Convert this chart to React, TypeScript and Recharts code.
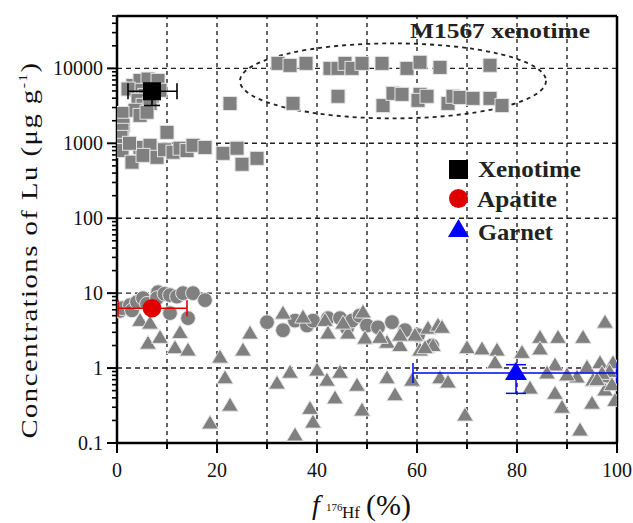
import React from 'react';
import { ScatterChart, Scatter, XAxis, YAxis, ErrorBar, ReferenceLine, ReferenceDot } from 'recharts';

// f176Hf (%) vs Lu concentration (ug/g), grey = single spots
const xenotimeSpots: [number, number][] = [
  [3.2, 5900], [4.6, 6900], [6.2, 7200], [8.2, 6900], [8.6, 5100], [4, 5100], [2.2, 5300],
  [5.6, 4360], [7, 4200], [4.2, 3740], [5.2, 3210], [6.6, 3400], [3.6, 2760], [4.6, 2360],
  [6, 2600], [1, 2500], [1.2, 1740], [1, 1490], [0.8, 1200], [1, 940], [1, 800], [3, 560],
  [4.6, 880], [6.6, 940], [5.2, 690], [8, 650], [2.5, 1000], [9.5, 820], [10, 1400],
  [11.2, 760], [12.6, 860], [14, 800], [15.2, 940], [17.6, 880], [22.6, 3400], [21.2, 735],
  [24, 860], [25, 525], [28, 630],
  [32.2, 11660], [34.6, 10960], [37.8, 11660], [42.6, 10000], [44.2, 10000], [45.6, 11660],
  [47, 10000], [49, 11660], [53, 11660], [58, 10000], [60.6, 12050], [64.6, 10300], [74.6, 11000],
  [35.2, 3410], [44.2, 4240], [53.2, 3190], [55.2, 4640], [57, 4500], [60.6, 4500], [60.2, 3740],
  [62, 4240], [66.2, 3410], [67.2, 4240], [68.6, 4090], [71.2, 3980], [74.6, 3980], [77, 3190],
];

const apatiteSpots: [number, number][] = [
  [0.6, 5.8], [1, 6.31], [2.6, 6.92], [3, 5.9], [4, 7.6], [5.2, 8.57], [6, 7.2], [8.2, 10.3],
  [8, 8.57], [9.5, 9.8], [10.6, 9.4], [12, 9], [13.2, 10], [15.2, 10], [17.6, 8.07], [10.6, 5.41],
  [14.2, 4.64],
  [30, 4.1], [33.2, 3.2], [35.6, 4.3], [38, 3.7], [39.2, 4.3], [42.2, 4.64], [44.6, 4.64],
  [46, 3.4], [47, 4.3], [48.5, 5.0], [50, 3.7], [52.2, 3.5], [55, 4.1], [57.6, 3.2], [60.2, 2.75],
  [63, 2.0],
];

const garnetSpots: [number, number][] = [
  [4.6, 4.33], [6.6, 3.98], [6.2, 2.15], [8.6, 2.57], [12.6, 2.98], [11.6, 1.87], [14.2, 1.74],
  [20.6, 1.4], [21.6, 0.74], [22.6, 0.32], [18.6, 0.185], [25.2, 1.74], [26.6, 2.93],
  [33.2, 5.41], [32, 0.63], [34.6, 0.88], [35.6, 0.128], [38.6, 0.29], [39.2, 0.19], [40, 0.94],
  [37.2, 4.79], [42, 0.69], [44.6, 0.88], [43.6, 0.4], [48, 0.59], [49, 0.275], [54, 0.74],
  [55.6, 0.44], [59, 0.69], [64.6, 0.74], [66.2, 0.65], [49.2, 5.6], [41.6, 4.33], [46.2, 2.93],
  [49.6, 2.51], [54, 2.21], [56.6, 2.0], [59.6, 2.75], [62.2, 3.41], [64.2, 3.73], [63.2, 2.0],
  [60.6, 1.74], [45.2, 3.98], [42.2, 2.93], [52.6, 2.57], [65, 3.5], [56.6, 2.75], [61.6, 1.87],
  [70, 1.87], [73, 1.8], [76, 1.74], [75.6, 1.18], [81, 1.62], [79.6, 0.94], [69.6, 0.236],
  [82.6, 0.54], [84.6, 2.57], [84.6, 1.8], [88.2, 2.57], [93.2, 2.57], [97.6, 4.1], [87.6, 1.1],
  [86, 0.86], [87.6, 0.46], [89, 0.3], [92.6, 0.149], [95, 0.34], [92, 0.76], [94, 1.03],
  [96.6, 1.18], [99.2, 1.18], [98, 0.76], [97.6, 0.51], [99.6, 0.37], [90, 0.81], [95.2, 0.69],
  [98.5, 0.9], [97, 0.85], [99, 0.6], [96, 0.7],
];

// weighted means: x, y, x-error [-,+], y-error [-,+]
const xenotimeMean = [{ x: 7, y: 4950, ex: [4.8, 5], ey: [1750, 1000] }];
const apatiteMean = [{ x: 7, y: 6.3, ex: [6.8, 7], ey: [0, 0] }];
const garnetMean = [{ x: 79.8, y: 0.86, ex: [20.6, 20.2], ey: [0.4, 0.25] }];

const decades = [0.1, 1, 10, 100, 1000, 10000];
const yTicks = decades.flatMap((d) => [1, 2, 3, 4, 5, 6, 7, 8, 9].map((k) => d * k)).filter((v) => v <= 50000);
const xTicks = [0, 10, 20, 30, 40, 50, 60, 70, 80, 90, 100];
const xLabels = [0, 20, 40, 60, 80, 100];
const gridX = [10, 20, 30, 40, 50, 60, 70, 80, 90];
const gridY = [1, 10, 100, 1000, 10000];

const toPts = (arr: [number, number][]) => arr.map(([x, y]) => ({ x, y }));

const FONT = '"Liberation Serif", "Times New Roman", serif';
const GREY = '#808080';
const W = 633;
const H = 523;

const Square = (p: any) => (
  <rect x={p.cx - 7} y={p.cy - 7} width={14} height={14} fill={GREY} stroke="#e4e4e4" strokeWidth={1} />
);
const Circle = (p: any) => <circle cx={p.cx} cy={p.cy} r={7.4} fill={GREY} stroke="#e4e4e4" strokeWidth={1} />;
const Tri = (p: any) => (
  <polygon
    points={`${p.cx},${p.cy - 8} ${p.cx - 8.3},${p.cy + 6} ${p.cx + 8.3},${p.cy + 6}`}
    fill={GREY}
    stroke="#e4e4e4"
    strokeWidth={1}
  />
);

const YTick = (props: any) => {
  const { x, y, payload } = props;
  const v = payload.value;
  const major = decades.some((d) => Math.abs(d - v) < d * 1e-6);
  return (
    <g>
      <line x1={x - (major ? 10 : 5)} x2={x} y1={y} y2={y} stroke="#000" strokeWidth={major ? 2 : 1.6} />
      {major && (
        <text x={x - 14} y={y + 7} textAnchor="end" fontSize={20} fontFamily={FONT} fill="#111">
          {v < 1 ? '0.1' : String(Math.round(v))}
        </text>
      )}
    </g>
  );
};

const XTick = (props: any) => {
  const { x, y, payload } = props;
  const v = payload.value;
  const major = xLabels.includes(v);
  return (
    <g>
      <line x1={x} x2={x} y1={y} y2={y + (major ? 10 : 6)} stroke="#000" strokeWidth={2} />
      {major && (
        <text x={x} y={y + 34} textAnchor="middle" fontSize={20} fontFamily={FONT} fill="#111">
          {v}
        </text>
      )}
    </g>
  );
};

const Ellipse = (p: any) => (
  <ellipse cx={p.cx} cy={p.cy} rx={153} ry={37.5} fill="none" stroke="#222" strokeWidth={1.8} strokeDasharray="4 4" />
);

export default function App() {
  return (
    <div style={{ position: 'absolute', left: 0, top: 0, width: W, height: H, background: '#fff' }}>
      <ScatterChart width={W} height={H} margin={{ top: 16, right: 16, bottom: 40, left: 17 }}>
        <XAxis
          type="number"
          dataKey="x"
          domain={[0, 100]}
          ticks={xTicks}
          interval={0}
          allowDataOverflow
          height={40}
          tickSize={0}
          tickMargin={0}
          tickLine={false}
          tick={<XTick />}
          axisLine={{ stroke: '#000', strokeWidth: 2.5 }}
        />
        <YAxis
          type="number"
          dataKey="y"
          scale="log"
          domain={[0.1, 50000]}
          ticks={yTicks}
          interval={0}
          allowDataOverflow
          width={100}
          tickSize={0}
          tickMargin={0}
          tickLine={false}
          tick={<YTick />}
          axisLine={{ stroke: '#000', strokeWidth: 2.5 }}
        />
        {gridX.map((v) => (
          <ReferenceLine key={'gx' + v} x={v} stroke="#222" strokeWidth={1.4} strokeDasharray="4 4" />
        ))}
        {gridY.map((v) => (
          <ReferenceLine key={'gy' + v} y={v} stroke="#222" strokeWidth={1.4} strokeDasharray="5 4" />
        ))}
        <ReferenceLine x={100} stroke="#000" strokeWidth={2.5} />
        <ReferenceLine y={50000} stroke="#000" strokeWidth={2.5} />
        <ReferenceDot x={55.2} y={6810} r={1} shape={<Ellipse />} />

        <Scatter data={toPts(xenotimeSpots)} shape={<Square />} isAnimationActive={false} />
        <Scatter data={toPts(apatiteSpots)} shape={<Circle />} isAnimationActive={false} />
        <Scatter data={toPts(garnetSpots)} shape={<Tri />} isAnimationActive={false} />
      </ScatterChart>

      {/* means with error bars, on top of the grey spots */}
      <div style={{ position: 'absolute', left: 0, top: 0 }}>
        <ScatterChart width={W} height={H} margin={{ top: 16, right: 16, bottom: 80, left: 117 }}>
          <XAxis type="number" dataKey="x" domain={[0, 100]} allowDataOverflow hide />
          <YAxis type="number" dataKey="y" scale="log" domain={[0.1, 50000]} allowDataOverflow hide />
          <Scatter
            data={xenotimeMean}
            isAnimationActive={false}
            shape={(p: any) => <rect x={p.cx - 9} y={p.cy - 9} width={18} height={18} fill="#000" />}
          >
            <ErrorBar dataKey="ex" direction="x" width={8} stroke="#000" strokeWidth={1.6} isAnimationActive={false} />
            <ErrorBar dataKey="ey" direction="y" width={8} stroke="#000" strokeWidth={1.6} isAnimationActive={false} />
          </Scatter>
          <Scatter
            data={apatiteMean}
            isAnimationActive={false}
            shape={(p: any) => <circle cx={p.cx} cy={p.cy} r={9.3} fill="#e00000" />}
          >
            <ErrorBar dataKey="ex" direction="x" width={8} stroke="#e00000" strokeWidth={1.6} isAnimationActive={false} />
          </Scatter>
          <Scatter
            data={garnetMean}
            isAnimationActive={false}
            shape={(p: any) => (
              <polygon points={`${p.cx},${p.cy - 11} ${p.cx - 11},${p.cy + 7} ${p.cx + 11},${p.cy + 7}`} fill="#0000ff" />
            )}
          >
            <ErrorBar dataKey="ex" direction="x" width={10} stroke="#0000ff" strokeWidth={1.5} isAnimationActive={false} />
            <ErrorBar dataKey="ey" direction="y" width={10} stroke="#0000ff" strokeWidth={1.5} isAnimationActive={false} />
          </Scatter>
        </ScatterChart>
      </div>

      <svg width={W} height={H} style={{ position: 'absolute', left: 0, top: 0, pointerEvents: 'none' }}>
        <text x={410} y={38} fontSize={22} fontWeight="bold" fontFamily={FONT} fill="#222" textLength={180} lengthAdjust="spacingAndGlyphs">
          M1567 xenotime
        </text>

        <rect x={449} y={160} width={19} height={19} fill="#000" />
        <text x={478} y={177} fontSize={23} fontWeight="bold" fontFamily={FONT} fill="#222" textLength={103} lengthAdjust="spacingAndGlyphs">
          Xenotime
        </text>
        <circle cx={458.5} cy={198.5} r={9.5} fill="#e00000" />
        <text x={477} y={207} fontSize={23} fontWeight="bold" fontFamily={FONT} fill="#222" textLength={80} lengthAdjust="spacingAndGlyphs">
          Apatite
        </text>
        <polygon points="458.5,219 448,237 469,237" fill="#0000ff" />
        <text x={478} y={240} fontSize={23} fontWeight="bold" fontFamily={FONT} fill="#222" textLength={75} lengthAdjust="spacingAndGlyphs">
          Garnet
        </text>

        <g transform="translate(37 250) rotate(-90) scale(1.2 1)">
          <text textAnchor="middle" fontSize={24} fontFamily={FONT} fill="#111" letterSpacing={1.2}>
            Concentrations of Lu (μg g<tspan fontSize={13} dy={-10}>-1</tspan>
            <tspan dy={10}>)</tspan>
          </text>
        </g>

        <text x={312} y={514} fontSize={28} fontStyle="italic" fontFamily={FONT} fill="#111">
          f
        </text>
        <text x={326} y={511} fontSize={11} fontFamily={FONT} fill="#111">
          176
        </text>
        <text x={342} y={518} fontSize={17} fontFamily={FONT} fill="#111">
          Hf
        </text>
        <text x={366} y={515} fontSize={30} fontFamily={FONT} fill="#111">
          (%)
        </text>
      </svg>
    </div>
  );
}
